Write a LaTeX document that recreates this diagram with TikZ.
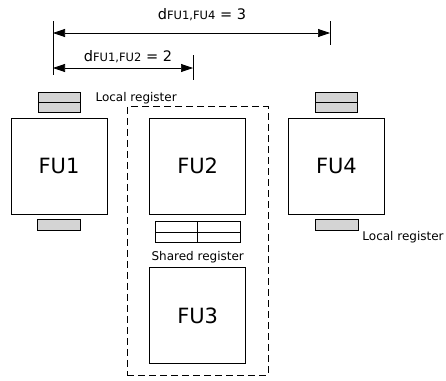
\documentclass[tikz,border=0pt]{standalone}
\usepackage{fontspec}
\setmainfont{DejaVu Sans}
\usepackage{xcolor}
\usepackage{tikz}
\usetikzlibrary{arrows.meta, positioning, fit}
\definecolor{reggray}{RGB}{212, 212, 212}

\begin{document}
\begin{tikzpicture}[
    x=1pt, y=-1pt,
    node distance=42pt,
    fu/.style={draw, line width=0.7pt, minimum width=96pt, minimum height=96pt,
               inner sep=0pt, font=\fontsize{21}{21}\selectfont},
    localreg/.style={draw, line width=0.7pt, fill=reggray, minimum width=42pt,
                     minimum height=20pt, inner sep=0pt,
                     path picture={\draw[line width=0.9pt] (path picture bounding box.west)
                                   -- (path picture bounding box.east);}},
    singlereg/.style={draw, line width=0.7pt, fill=reggray, minimum width=43pt,
                      minimum height=11pt, inner sep=0pt},
    sharedreg/.style={draw, line width=0.7pt, minimum width=85pt, minimum height=21pt,
                      inner sep=0pt,
                      path picture={\draw[line width=0.7pt] (path picture bounding box.west)
                                    -- (path picture bounding box.east)
                                    (path picture bounding box.north) -- (path picture bounding box.south);}},
    lbl/.style={font=\fontsize{12}{12}\selectfont, inner sep=0pt},
    dimlbl/.style={font=\fontsize{14.5}{15}\selectfont, inner sep=0pt},
    dim/.style={{Triangle[length=12pt,width=8pt]}-{Triangle[length=12pt,width=8pt]}, line width=0.7pt},
    tick/.style={line width=0.7pt}
]
    \useasboundingbox (0,0) rectangle (446,380);

    % functional units
    \node[fu] (fu1) at (59,166) {FU1};
    \node[fu, right=of fu1] (fu2) {FU2};
    \node[fu, right=of fu2] (fu4) {FU4};
    \node[fu, below=53pt of fu2] (fu3) {FU3};

    % registers
    \node[localreg, above=4.5pt of fu1] (reg1top) {};
    \node[singlereg, below=5pt of fu1] (reg1bot) {};
    \node[localreg, above=4.5pt of fu4] (reg4top) {};
    \node[singlereg, below=5pt of fu4] (reg4bot) {};
    \node[sharedreg, below=7pt of fu2] (shreg) {};

    \node[lbl, right=15pt of reg1top, yshift=5pt] (loclbl1) {Local register};
    \node[lbl, anchor=north west] (loclbl4) at ([xshift=4pt]reg4bot.south east) {Local register};
    \node[lbl, below=8pt of shreg] (shlbl) {Shared register};

    % cluster of FU2 and FU3
    \node[draw, line width=0.7pt, dash pattern=on 7pt off 4pt, fit=(fu2)(fu3),
          inner xsep=22pt, inner ysep=11pt] (cluster) {};

    % distances
    \coordinate (d1top) at (53,21);
    \coordinate (d1bot) at (53,75);
    \coordinate (d4top) at (330,21);
    \coordinate (d4bot) at (330,45);
    \coordinate (d2top) at (193,55);
    \coordinate (d2bot) at (193,80);
    \coordinate (d4end) at (330,33);
    \coordinate (d2end) at (193,68);

    \draw[tick] (d1top) -- (d1bot);
    \draw[tick] (d4top) -- (d4bot);
    \draw[tick] (d2top) -- (d2bot);
    \draw[dim] (d1top |- d4end) -- (d4end);
    \draw[dim] (d1top |- d2end) -- (d2end);

    \node[dimlbl, anchor=base] (dist14) at (202,19) {d{\fontsize{11.5}{12}\selectfont FU1,FU4} = 3};
    \node[dimlbl, anchor=base] (dist12) at (128,61) {d{\fontsize{11.5}{12}\selectfont FU1,FU2} = 2};
\end{tikzpicture}
\end{document}
